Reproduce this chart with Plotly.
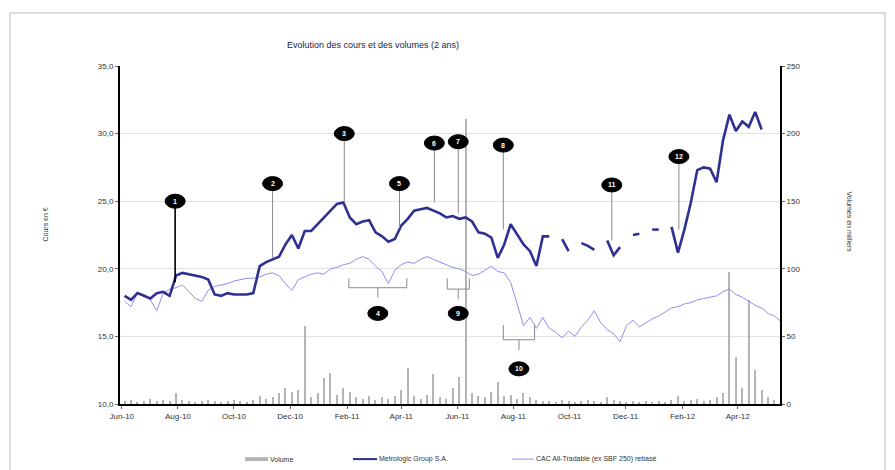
import pandas as pd
import plotly.graph_objects as go

# ---------------- data (weekly readings) ----------------
start_date = "2010-06-04"
n_weeks = 103
dates = pd.date_range(start_date, periods=n_weeks, freq="7D")

metrologic = [
    18.0, 17.7, 18.2, 18.0, 17.8, 18.2, 18.3, 18.0, 19.5, 19.7,
    19.6, 19.5, 19.4, 19.2, 18.1, 18.0, 18.2, 18.1, 18.1, 18.1,
    18.2, 20.2, 20.5, 20.7, 20.9, 21.8, 22.5, 21.5, 22.8, 22.8,
    23.3, 23.8, 24.3, 24.8, 24.9, 23.8, 23.3, 23.5, 23.6, 22.7,
    22.4, 22.0, 22.2, 23.2, 23.7, 24.3, 24.4, 24.5, 24.3, 24.1,
    23.8, 23.9, 23.7, 23.8, 23.5, 22.7, 22.6, 22.3, 20.8, 21.8,
    23.3, 22.5, 21.8, 21.3, 20.2, 22.4, 22.4, None, 22.2, 21.3,
    None, 21.9, 21.7, 21.4, None, 22.1, 21.0, 21.6, None, 22.5,
    22.6, None, 22.9, 22.9, None, 23.1, 21.2, 22.9, 24.9, 27.3,
    27.5, 27.4, 26.4, 29.5, 31.4, 30.2, 30.9, 30.5, 31.6, 30.3,
    None, None, None,
]

cac_rebased = [
    17.6, 17.2, 18.2, 18.1, 17.7, 16.9, 18.2, 18.5, 18.6, 18.8,
    18.3, 17.8, 17.6, 18.4, 18.7, 18.8, 18.9, 19.1, 19.2, 19.3,
    19.3, 19.4, 19.6, 19.7, 19.5, 18.9, 18.4, 19.2, 19.4, 19.6,
    19.7, 19.6, 20.0, 20.1, 20.3, 20.4, 20.7, 20.9, 20.7, 20.2,
    19.8, 18.9, 19.9, 20.3, 20.5, 20.4, 20.7, 20.9, 20.7, 20.5,
    20.3, 20.1, 20.0, 19.8, 19.5, 19.6, 19.9, 20.2, 19.8, 19.7,
    19.0, 17.4, 15.8, 16.4, 15.6, 16.4, 15.6, 15.3, 14.9, 15.4,
    15.0, 15.7, 16.2, 16.9, 16.0, 15.5, 15.2, 14.6, 15.8, 16.2,
    15.7, 16.0, 16.3, 16.5, 16.8, 17.1, 17.2, 17.4, 17.5, 17.7,
    17.8, 17.9, 18.0, 18.3, 18.5, 18.1, 17.9, 17.6, 17.3, 17.1,
    16.7, 16.5, 16.1,
]

volume = [
    2, 3, 1, 2, 4, 2, 3, 2, 8, 3,
    2, 1, 2, 3, 2, 1, 2, 3, 2, 1,
    3, 6, 4, 5, 8, 12, 9, 10, 58, 5,
    8, 19, 23, 7, 12, 9, 5, 4, 6, 3,
    5, 4, 6, 10, 27, 6, 4, 7, 22, 5,
    4, 12, 20, 211, 8, 6, 5, 9, 16, 6,
    7, 4, 8, 5, 3, 2, 2, 1, 3, 2,
    1, 2, 3, 2, 1, 5, 3, 2, 1, 2,
    1, 2, 1, 2, 1, 3, 6, 2, 3, 4,
    2, 3, 5, 8, 98, 35, 12, 77, 25, 10,
    5, 3, 2,
]

# event call-outs: (label, date, label level, price level)
events = [
    ("1", "2010-07-29", 25.0, 19.0),
    ("2", "2010-11-12", 26.3, 20.8),
    ("3", "2011-01-29", 30.0, 25.0),
    ("5", "2011-03-30", 26.3, 23.0),
    ("6", "2011-05-07", 29.3, 24.9),
    ("7", "2011-06-02", 29.4, 24.1),
    ("8", "2011-07-21", 29.15, 22.9),
    ("11", "2011-11-16", 26.2, 22.1),
    ("12", "2012-01-28", 28.3, 22.9),
]
# bracket call-outs under the index: (label, start, end, top, base, stem end, label level)
brackets = [
    ("4", "2011-02-03", "2011-04-07", 19.3, 18.6, 17.85, 16.7),
    ("9", "2011-05-21", "2011-06-14", 19.3, 18.5, 17.75, 16.7),
    ("10", "2011-07-21", "2011-08-24", 15.85, 14.75, 14.0, 12.6),
]

price_ticks = [10, 15, 20, 25, 30, 35]
price_ticktext = ["10,0", "15,0", "20,0", "25,0", "30,0", "35,0"]
volume_ticks = [0, 50, 100, 150, 200, 250]

series_names = ["Volume", "Metrologic Group S.A.", "CAC All-Tradable (ex SBF 250) rebasé"]
title_text = "Evolution des cours et des volumes (2 ans)"

# ---------------- styles ----------------
C_PRICE = "#2E3192"
C_INDEX = "#8F8FF5"
C_VOL = "#B4B4B4"
FONT = "Liberation Sans"

fig = go.Figure()
fig.add_trace(go.Bar(x=dates, y=volume, yaxis="y", marker_color=C_VOL,
                     marker_line_width=0, width=1.2 * 86400000, name=series_names[0],
                     showlegend=False))
fig.add_trace(go.Scatter(x=dates, y=cac_rebased, yaxis="y2", mode="lines",
                         line=dict(color=C_INDEX, width=1), name=series_names[2],
                         showlegend=False))
fig.add_trace(go.Scatter(x=dates, y=metrologic, yaxis="y2", mode="lines",
                         line=dict(color=C_PRICE, width=2.6), name=series_names[1],
                         connectgaps=False, showlegend=False))

shapes = []
annotations = []

for lab, d, ylab, yp in events:
    col = "#000000" if lab == "1" else "#8A8A8A"
    wid = 1.6 if lab == "1" else 1
    shapes.append(dict(type="line", xref="x", yref="y2", x0=d, x1=d, y0=yp, y1=ylab,
                       line=dict(color=col, width=wid), layer="above"))
    shapes.append(dict(type="circle", xref="x", yref="y2", xsizemode="pixel",
                       ysizemode="pixel", xanchor=d, yanchor=ylab, x0=-10, x1=10,
                       y0=-7, y1=7, fillcolor="#000000", line=dict(color="#000000", width=1),
                       layer="above"))
    annotations.append(dict(x=d, y=ylab, xref="x", yref="y2", text="<b>%s</b>" % lab,
                            showarrow=False, font=dict(color="white", size=7, family=FONT)))

for lab, d0, d1, ytop, ybase, ystem, ylab in brackets:
    mid = pd.Timestamp(d0) + (pd.Timestamp(d1) - pd.Timestamp(d0)) / 2
    for (xa, ya, xb, yb) in [(d0, ytop, d0, ybase), (d0, ybase, d1, ybase),
                             (d1, ybase, d1, ytop), (mid, ybase, mid, ystem)]:
        shapes.append(dict(type="line", xref="x", yref="y2", x0=xa, x1=xb, y0=ya, y1=yb,
                           line=dict(color="#8A8A8A", width=1), layer="above"))
    shapes.append(dict(type="circle", xref="x", yref="y2", xsizemode="pixel",
                       ysizemode="pixel", xanchor=mid, yanchor=ylab, x0=-10, x1=10,
                       y0=-7, y1=7, fillcolor="#000000", line=dict(color="#000000", width=1),
                       layer="above"))
    annotations.append(dict(x=mid, y=ylab, xref="x", yref="y2", text="<b>%s</b>" % lab,
                            showarrow=False, font=dict(color="white", size=7, family=FONT)))

# outer frame
shapes.append(dict(type="rect", xref="paper", yref="paper", x0=-0.1667, x1=1.159,
                   y0=-0.25, y1=1.157, line=dict(color="#DCDCDC", width=2), layer="below"))

# custom legend
leg_y = -0.163
legend_items = [
    (series_names[0], 245, 268, C_VOL, 4),
    (series_names[1], 353, 377, C_PRICE, 2),
    (series_names[2], 512, 534, C_INDEX, 1),
]
for name, px0, px1, col, w in legend_items:
    x0 = (px0 - 120) / 660
    x1 = (px1 - 120) / 660
    shapes.append(dict(type="line", xref="paper", yref="paper", x0=x0, x1=x1,
                       y0=leg_y, y1=leg_y, line=dict(color=col, width=w)))
    annotations.append(dict(x=x1, y=leg_y, xref="paper", yref="paper", text=name,
                            showarrow=False, xanchor="left", yanchor="middle",
                            font=dict(size=7, color="#333333", family=FONT)))

annotations.append(dict(x=0.383, y=1.083, xref="paper", yref="paper", text=title_text,
                        showarrow=False, font=dict(size=9, color="#222244", family=FONT)))
annotations.append(dict(x=-0.121, y=0.53, xref="paper", yref="paper", text="Cours en €",
                        showarrow=False, textangle=-90,
                        font=dict(size=7, color="#333333", family=FONT)))
annotations.append(dict(x=1.114, y=0.538, xref="paper", yref="paper",
                        text="Volumes en milliers", showarrow=False, textangle=90,
                        font=dict(size=7, color="#333333", family=FONT)))

# page body adds an 8px offset; compensate so the plot area lands at 120..780 x 66..404
fig.update_layout(
    width=887, height=462,
    margin=dict(l=112, r=115, t=58, b=66),
    paper_bgcolor="white", plot_bgcolor="white",
    showlegend=False,
    bargap=0,
    font=dict(family=FONT, size=8, color="#333333"),
    xaxis=dict(type="date", range=["2010-05-30", "2012-05-17"], dtick="M2",
               tick0="2010-06-01", tickformat="%b-%y", showgrid=False,
               showline=True, linecolor="#000000", linewidth=2, ticks="outside",
               ticklen=3, tickcolor="#666666", tickfont=dict(size=8), zeroline=False),
    yaxis=dict(range=[0, 250], tickvals=volume_ticks, side="right", showgrid=True,
               gridcolor="#E2E2E2", gridwidth=1, showline=True, linecolor="#000000",
               linewidth=2, ticks="outside", ticklen=3, tickcolor="#666666",
               tickfont=dict(size=8), zeroline=False),
    yaxis2=dict(range=[10, 35], tickvals=price_ticks, ticktext=price_ticktext,
                overlaying="y", side="left", showgrid=False, showline=True,
                linecolor="#000000", linewidth=2, ticks="outside", ticklen=3,
                tickcolor="#666666", tickfont=dict(size=8), zeroline=False),
    shapes=shapes,
    annotations=annotations,
)

fig.write_html("out.html")
